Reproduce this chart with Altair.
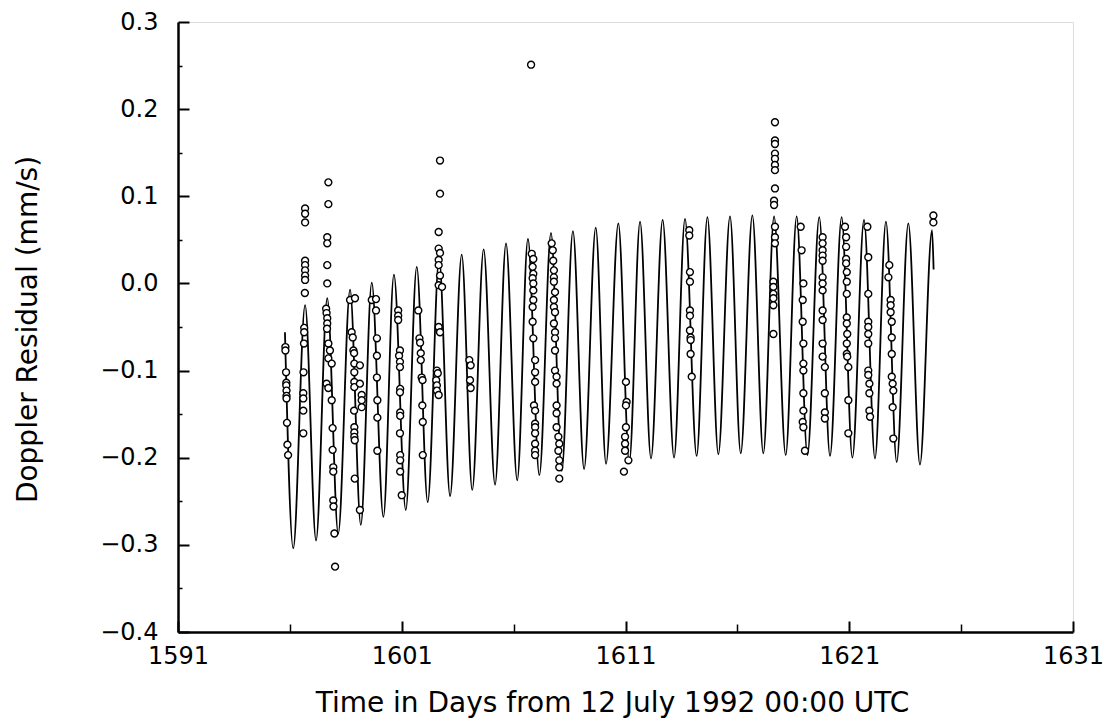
import altair as alt
import pandas as pd

# ---- model curve: successive extrema ----
curve_days = [1595.78, 1596.15, 1596.68, 1597.17, 1597.67, 1598.16, 1598.69, 1599.17,
              1599.66, 1600.18, 1600.65, 1601.18, 1601.67, 1602.16, 1602.67, 1603.16,
              1603.68, 1604.15, 1604.66, 1605.17, 1605.66, 1606.16, 1606.64, 1607.15,
              1607.67, 1608.15, 1608.65, 1609.15, 1609.67, 1610.13, 1610.68, 1611.17,
              1611.65, 1612.14, 1612.66, 1613.17, 1613.66, 1614.18, 1614.66, 1615.15,
              1615.67, 1616.15, 1616.67, 1617.16, 1617.64, 1618.16, 1618.65, 1619.13,
              1619.66, 1620.14, 1620.66, 1621.14, 1621.66, 1622.15, 1622.64, 1623.12,
              1623.64, 1624.16, 1624.70, 1624.77]
curve_vals = [-0.056, -0.304, -0.025, -0.295, -0.017, -0.287, -0.007, -0.277,
              0.001, -0.268, 0.010, -0.260, 0.019, -0.251, 0.029, -0.244,
              0.033, -0.237, 0.039, -0.231, 0.046, -0.226, 0.051, -0.220,
              0.058, -0.215, 0.060, -0.213, 0.064, -0.207, 0.069, -0.205,
              0.071, -0.201, 0.073, -0.200, 0.074, -0.198, 0.076, -0.196,
              0.077, -0.195, 0.078, -0.195, 0.077, -0.197, 0.077, -0.197,
              0.076, -0.198, 0.076, -0.200, 0.073, -0.201, 0.071, -0.205,
              0.069, -0.208, 0.061, 0.016]

# ---- measured Doppler residuals (circles), grouped by tracking pass ----
passes = [
    # pass A
    [(1595.80, -0.073), (1595.80, -0.077), (1595.83, -0.102), (1595.84, -0.114), (1595.84, -0.117),
     (1595.85, -0.123), (1595.85, -0.129), (1595.85, -0.132), (1595.87, -0.160), (1595.89, -0.185),
     (1595.92, -0.197)],
    # pass B
    [(1596.68, 0.086), (1596.68, 0.080), (1596.68, 0.070), (1596.68, 0.026), (1596.68, 0.021),
     (1596.68, 0.015), (1596.68, 0.009), (1596.68, 0.004), (1596.67, -0.011), (1596.64, -0.051),
     (1596.64, -0.056), (1596.63, -0.069), (1596.61, -0.102), (1596.60, -0.126), (1596.60, -0.132),
     (1596.60, -0.146), (1596.60, -0.172)],
    # pass C
    [(1597.72, 0.116), (1597.72, 0.091), (1597.67, 0.053), (1597.67, 0.046), (1597.67, 0.021),
     (1597.67, 0.000), (1597.62, -0.029), (1597.64, -0.034), (1597.67, -0.040), (1597.67, -0.046),
     (1597.66, -0.052), (1597.72, -0.069), (1597.79, -0.077), (1597.72, -0.086), (1597.87, -0.092),
     (1597.64, -0.115), (1597.72, -0.120), (1597.87, -0.134), (1597.91, -0.166), (1597.91, -0.191),
     (1597.94, -0.211), (1597.94, -0.216), (1597.94, -0.249), (1597.95, -0.256), (1597.99, -0.287),
     (1598.02, -0.325)],
    # pass D
    [(1598.69, -0.019), (1598.91, -0.017), (1598.76, -0.056), (1598.81, -0.062), (1598.84, -0.077),
     (1598.87, -0.080), (1598.88, -0.092), (1599.13, -0.094), (1598.88, -0.102), (1598.88, -0.113),
     (1598.88, -0.119), (1599.13, -0.115), (1599.21, -0.128), (1599.21, -0.134), (1599.21, -0.142),
     (1598.87, -0.146), (1598.88, -0.165), (1598.88, -0.171), (1598.88, -0.176), (1598.90, -0.180),
     (1598.90, -0.224), (1599.13, -0.260)],
    # pass E
    [(1599.66, -0.019), (1599.85, -0.018), (1599.85, -0.031), (1599.89, -0.063), (1599.89, -0.083),
     (1599.89, -0.108), (1599.91, -0.134), (1599.91, -0.154), (1599.91, -0.192)],
    # pass F
    [(1600.84, -0.031), (1600.84, -0.037), (1600.84, -0.042), (1600.92, -0.077), (1600.88, -0.083),
     (1600.92, -0.090), (1600.92, -0.096), (1600.93, -0.121), (1600.92, -0.125), (1600.93, -0.148),
     (1600.93, -0.152), (1600.92, -0.172), (1600.93, -0.197), (1600.93, -0.203), (1600.93, -0.216),
     (1601.00, -0.243)],
    # pass G
    [(1601.74, -0.031), (1601.79, -0.063), (1601.82, -0.068), (1601.85, -0.080), (1601.85, -0.088),
     (1601.89, -0.108), (1601.93, -0.111), (1601.92, -0.140), (1601.94, -0.159), (1601.94, -0.197)],
    # pass H
    [(1602.71, 0.141), (1602.71, 0.103), (1602.65, 0.059), (1602.65, 0.040), (1602.71, 0.035),
     (1602.65, 0.027), (1602.65, 0.021), (1602.71, 0.009), (1602.65, -0.002), (1602.80, -0.004),
     (1602.65, -0.050), (1602.71, -0.056), (1602.57, -0.100), (1602.61, -0.103), (1602.54, -0.111),
     (1602.57, -0.117), (1602.57, -0.123), (1602.65, -0.128)],
    # pass I
    [(1604.02, -0.088), (1604.08, -0.094), (1604.05, -0.111), (1604.08, -0.120)],
    # pass J (with the outlier)
    [(1606.78, 0.251),
     (1606.81, 0.034), (1606.88, 0.028), (1606.85, 0.019), (1606.88, 0.011), (1606.85, 0.006),
     (1606.88, 0.000), (1606.88, -0.008), (1606.88, -0.019), (1606.85, -0.027), (1606.85, -0.044),
     (1606.88, -0.063), (1606.96, -0.088), (1606.96, -0.102), (1606.96, -0.113), (1606.91, -0.140),
     (1606.96, -0.146), (1606.96, -0.161), (1606.96, -0.165), (1606.96, -0.172), (1606.96, -0.184),
     (1606.96, -0.192), (1606.96, -0.197)],
    # pass K
    [(1607.70, 0.046), (1607.75, 0.038), (1607.77, 0.026), (1607.80, 0.015), (1607.80, 0.007),
     (1607.80, 0.002), (1607.85, -0.010), (1607.80, -0.019), (1607.80, -0.027), (1607.85, -0.033),
     (1607.80, -0.046), (1607.85, -0.056), (1607.85, -0.063), (1607.85, -0.077), (1607.85, -0.100),
     (1607.92, -0.107), (1607.92, -0.115), (1607.92, -0.140), (1607.92, -0.149), (1607.92, -0.165),
     (1608.00, -0.176), (1608.04, -0.184), (1608.00, -0.192), (1608.04, -0.203), (1608.04, -0.211),
     (1608.04, -0.224)],
    # pass L
    [(1611.02, -0.113), (1611.05, -0.136), (1611.02, -0.140), (1611.02, -0.165), (1610.98, -0.176),
     (1610.98, -0.184), (1610.98, -0.192), (1611.13, -0.203), (1610.93, -0.216)],
    # pass M
    [(1613.85, 0.061), (1613.85, 0.055), (1613.88, 0.013), (1613.88, 0.002), (1613.88, -0.031),
     (1613.88, -0.037), (1613.88, -0.054), (1613.91, -0.062), (1613.91, -0.065), (1613.91, -0.081),
     (1613.96, -0.107)],
    # pass N
    [(1617.68, 0.185), (1617.68, 0.164), (1617.68, 0.160), (1617.68, 0.149), (1617.68, 0.143),
     (1617.68, 0.136), (1617.68, 0.130), (1617.68, 0.109), (1617.64, 0.095), (1617.64, 0.090),
     (1617.68, 0.065), (1617.68, 0.053), (1617.68, 0.046), (1617.61, 0.002), (1617.61, -0.004),
     (1617.61, -0.012), (1617.61, -0.017), (1617.61, -0.025), (1617.61, -0.058)],
    # pass O
    [(1618.83, 0.065), (1618.87, 0.038), (1618.95, 0.000), (1618.92, -0.019), (1618.92, -0.044),
     (1618.95, -0.069), (1618.95, -0.092), (1618.95, -0.100), (1618.95, -0.126), (1618.95, -0.146),
     (1618.92, -0.159), (1618.95, -0.165), (1619.02, -0.192)],
    # pass P
    [(1619.81, 0.053), (1619.81, 0.046), (1619.81, 0.038), (1619.81, 0.032), (1619.81, 0.026),
     (1619.81, 0.007), (1619.81, 0.000), (1619.81, -0.008), (1619.81, -0.031), (1619.81, -0.042),
     (1619.81, -0.069), (1619.81, -0.084), (1619.91, -0.096), (1619.91, -0.126), (1619.91, -0.148),
     (1619.91, -0.155)],
    # pass Q
    [(1620.81, 0.065), (1620.86, 0.053), (1620.86, 0.042), (1620.86, 0.028), (1620.86, 0.023),
     (1620.89, 0.013), (1620.89, 0.002), (1620.89, -0.012), (1620.89, -0.039), (1620.89, -0.046),
     (1620.91, -0.058), (1620.89, -0.069), (1620.89, -0.081), (1620.91, -0.084), (1620.96, -0.096),
     (1620.96, -0.134), (1620.96, -0.172)],
    # pass R
    [(1621.81, 0.065), (1621.85, 0.030), (1621.85, -0.012), (1621.85, -0.044), (1621.85, -0.050),
     (1621.85, -0.058), (1621.85, -0.069), (1621.85, -0.100), (1621.85, -0.105), (1621.90, -0.115),
     (1621.90, -0.126), (1621.90, -0.146), (1621.93, -0.153)],
    # pass S
    [(1622.79, 0.021), (1622.75, 0.007), (1622.85, -0.019), (1622.85, -0.025), (1622.85, -0.033),
     (1622.90, -0.044), (1622.90, -0.062), (1622.90, -0.081), (1622.90, -0.107), (1622.94, -0.115),
     (1622.97, -0.123), (1622.94, -0.142), (1622.97, -0.178)],
    # pass T
    [(1624.76, 0.078), (1624.76, 0.070)],
]

x_major = [1591, 1601, 1611, 1621, 1631]
x_minor = [1596, 1606, 1616, 1626]
y_major = [0.3, 0.2, 0.1, 0.0, -0.1, -0.2, -0.3, -0.4]
y_minor = [0.25, 0.15, 0.05, -0.05, -0.15, -0.25, -0.35]

curve_df = pd.DataFrame({"t": curve_days, "v": curve_vals})
pts = [p for grp in passes for p in grp]
pts_df = pd.DataFrame({"t": [p[0] for p in pts], "v": [p[1] for p in pts]})

FONT = "DejaVu Sans"
W, H = 895, 610
xscale = alt.Scale(domain=[1591, 1631], nice=False, zero=False)
yscale = alt.Scale(domain=[-0.4, 0.3], nice=False, zero=False)

x_main = alt.Axis(orient="bottom", values=x_major, format="d", ticks=False, grid=False,
                  domain=True, domainColor="black", domainWidth=2.5,
                  labelFont=FONT, labelFontSize=24, labelColor="black", labelPadding=12,
                  labelFlush=False,
                  title="Time in Days from 12 July 1992 00:00 UTC", titleFont=FONT,
                  titleFontSize=28, titleFontWeight="normal", titleColor="black",
                  titleX=434, titleY=71, titleBaseline="middle", titleAlign="center")
y_main = alt.Axis(orient="left", values=y_major, format=".1f", ticks=False, grid=False,
                  domain=True, domainColor="black", domainWidth=2.5,
                  labelFont=FONT, labelFontSize=24, labelColor="black", labelPadding=20,
                  labelFlush=False,
                  title="Doppler Residual (mm/s)", titleFont=FONT, titleFontSize=28,
                  titleFontWeight="normal", titleColor="black", titleAngle=270,
                  titleX=-150, titleY=307, titleBaseline="middle", titleAlign="center")

x_maj_ticks = alt.Axis(orient="bottom", values=x_major, offset=-11, tickSize=11, tickWidth=2,
                       tickColor="black", labels=False, domain=False, grid=False, title="")
y_maj_ticks = alt.Axis(orient="left", values=y_major, offset=-11, tickSize=11, tickWidth=2,
                       tickColor="black", labels=False, domain=False, grid=False, title="")
x_min_ticks = alt.Axis(orient="bottom", values=x_minor, offset=-8, tickSize=8, tickWidth=1.5,
                       tickColor="black", labels=False, domain=False, grid=False, title="")
y_min_ticks = alt.Axis(orient="left", values=y_minor, offset=-4, tickSize=4, tickWidth=1.5,
                       tickColor="black", labels=False, domain=False, grid=False, title="")

line = alt.Chart(curve_df).mark_line(color="black", strokeWidth=1.8, interpolate="monotone").encode(
    x=alt.X("t:Q", scale=xscale, axis=x_main),
    y=alt.Y("v:Q", scale=yscale, axis=y_main),
)
points = alt.Chart(pts_df).mark_point(shape="circle", size=48, filled=False, color="black",
                                      strokeWidth=1.4, fill="white", fillOpacity=1).encode(
    x=alt.X("t:Q", scale=xscale, axis=x_maj_ticks),
    y=alt.Y("v:Q", scale=yscale, axis=y_maj_ticks),
)
minor = alt.Chart(pts_df).mark_point(opacity=0).encode(
    x=alt.X("t:Q", scale=xscale, axis=x_min_ticks),
    y=alt.Y("v:Q", scale=yscale, axis=y_min_ticks),
)

chart = alt.layer(line, points, minor).resolve_axis(x="independent", y="independent").properties(
    width=W, height=H,
    autosize=alt.AutoSizeParams(type="none"),
    padding={"left": 170, "top": 14, "right": 30, "bottom": 88},
).configure_view(stroke=None).configure(background="white")

chart.save("out.html", embed_options={"renderer": "svg", "actions": False})
